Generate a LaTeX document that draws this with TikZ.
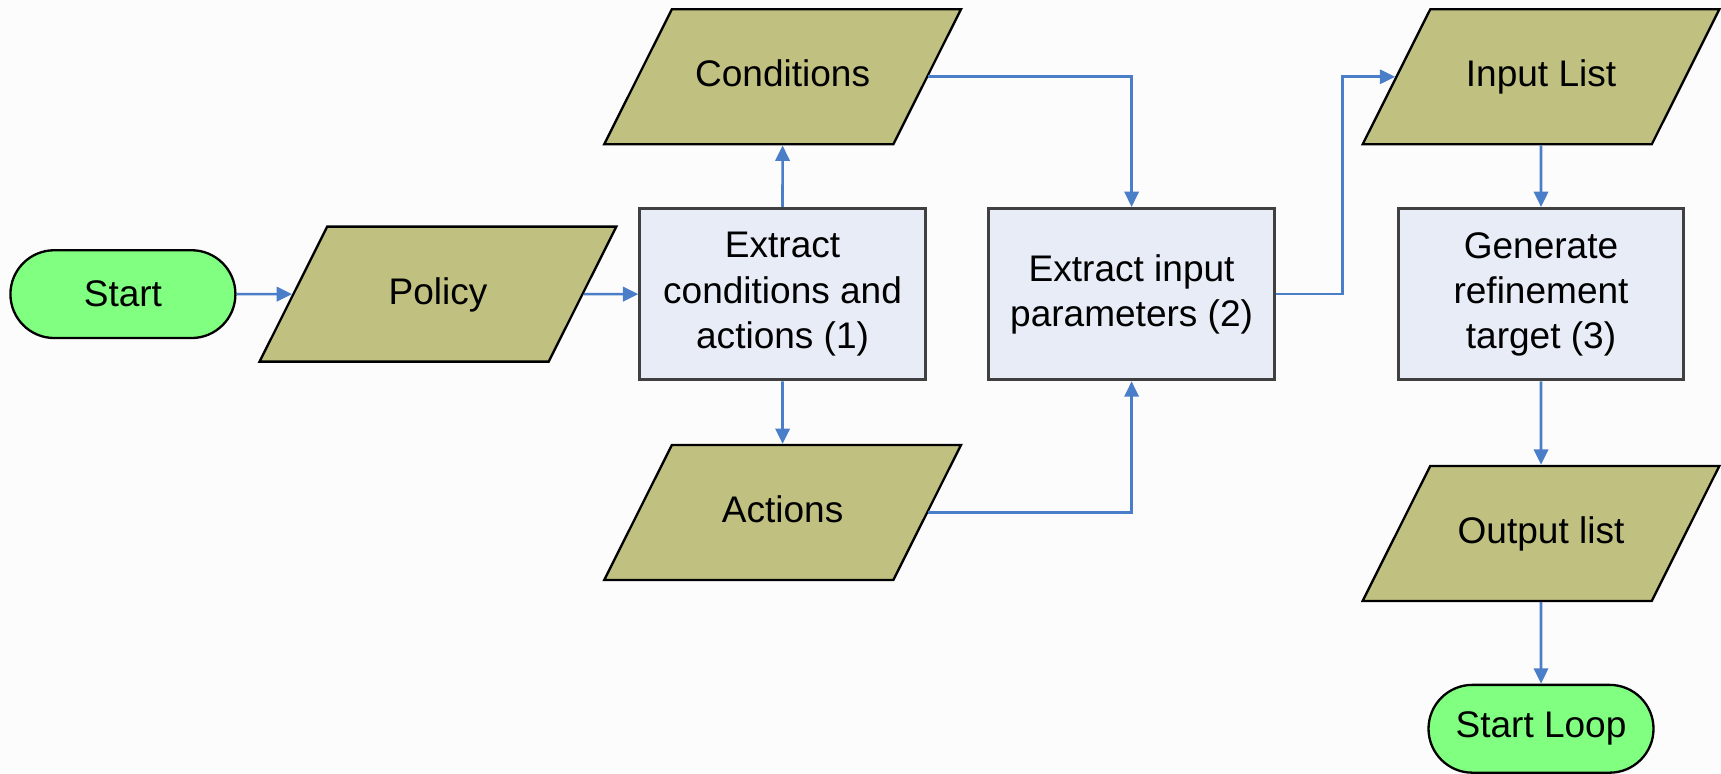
\documentclass[tikz,border=0pt]{standalone}
\usepackage{fontspec}
\setmainfont{Liberation Sans}
\usetikzlibrary{shapes.geometric,arrows.meta}
\definecolor{startgreen}{RGB}{128,255,128}
\definecolor{dataolive}{RGB}{192,192,128}
\definecolor{procblue}{RGB}{231,236,247}
\definecolor{linkblue}{RGB}{74,126,200}
\definecolor{bggray}{RGB}{252,252,252}

\begin{document}
\begin{tikzpicture}[
    font=\fontsize{9.6}{11.7}\selectfont,
    terminal/.style={draw, fill=startgreen, rounded corners=0.4cm, minimum width=2.05cm, minimum height=0.8cm, line width=0.6pt},
    datanode/.style={draw, fill=dataolive, trapezium, trapezium left angle=63.4, trapezium right angle=116.6, trapezium stretches body, text height=0.25cm, text depth=0.07cm, inner ysep=0.455cm, minimum width=3.25cm, line width=0.6pt},
    procbox/.style={draw=black!75, fill=procblue, minimum width=2.6cm, minimum height=1.56cm, align=center, line width=0.8pt},
    conn/.style={draw=linkblue, line width=0.7pt, -{Triangle[length=1.4mm, width=1.3mm]}}
]
    % Sfondo
    \fill[bggray] (0,0) rectangle (15.68,7.05);
    \useasboundingbox (0,0) rectangle (15.68,7.05);

    % Inizio e fine
    \node[terminal] (start) at (1.12,4.37) {Start};
    \node[terminal] (startloop) at (14.04,0.41) {Start Loop};

    % Dati
    \node[datanode] (policy) at (3.99,4.37) {Policy};
    \node[datanode] (cond) at (7.13,6.35) {Conditions};
    \node[datanode] (act) at (7.13,2.38) {Actions};
    \node[datanode] (inlist) at (14.04,6.35) {Input List};
    \node[datanode] (outlist) at (14.04,2.19) {Output list};

    % Passi
    \node[procbox] (extract) at (7.13,4.37) {Extract\\conditions and\\actions (1)};
    \node[procbox] (params) at (10.31,4.37) {Extract input\\parameters (2)};
    \node[procbox] (gen) at (14.04,4.37) {Generate\\refinement\\target (3)};

    % Frecce
    \draw[conn] (start) -- (policy);
    \draw[conn] (policy) -- (extract);
    \draw[conn] (extract) -- (cond);
    \draw[conn] (extract) -- (act);
    \draw[conn] (cond.east) -| (params.north);
    \draw[conn] (act.east) -| (params.south);
    \draw[conn] (params.east) -- ++(0.61,0) |- (inlist.west);
    \draw[conn] (inlist) -- (gen);
    \draw[conn] (gen) -- (outlist);
    \draw[conn] (outlist) -- (startloop);
\end{tikzpicture}
\end{document}
